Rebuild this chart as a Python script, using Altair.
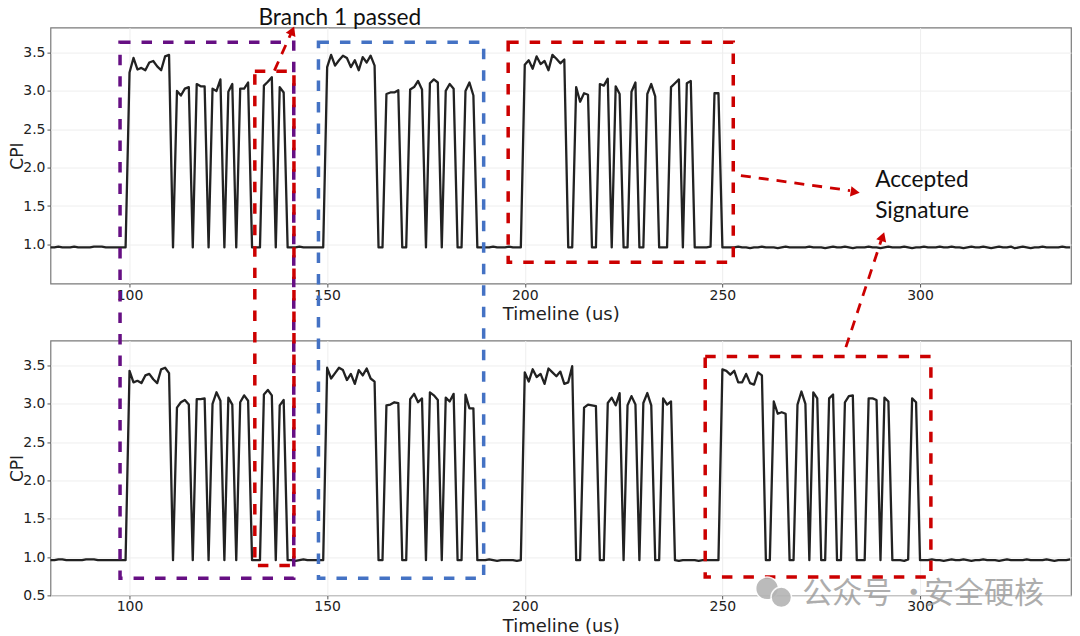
import altair as alt
import pandas as pd

# CPI per microsecond, one row per ten samples, starting at t = 80 us
TOP_CPI = [
    .96,.96,.97,.96,.96,.96,.97,.96,.96,.96,
    .96,.97,.97,.97,.96,.96,.96,.96,.96,.96,
    3.24,3.43,3.28,3.30,3.27,3.37,3.39,3.32,3.27,3.45,
    3.47,.96,3.00,2.94,3.03,3.05,.96,3.09,3.06,3.06,
    .96,3.03,3.00,3.15,.96,2.99,3.09,.96,3.03,3.03,
    3.11,.96,.96,.96,3.07,3.12,3.18,.96,3.05,2.98,
    .96,.96,.96,.97,.96,.96,.96,.96,.96,.96,
    3.31,3.47,3.33,3.40,3.46,3.43,3.31,3.40,3.27,3.44,
    3.37,3.46,3.33,.96,.96,2.96,2.98,2.98,3.01,.96,
    .96,3.02,3.05,3.13,3.02,.96,3.10,3.15,3.11,.96,
    3.00,3.09,3.03,.96,.96,3.00,3.11,2.94,.96,.96,
    .96,.96,.97,.96,.96,.96,.97,.96,.96,.96,
    3.34,3.40,3.29,3.45,3.35,3.39,3.27,3.47,3.42,3.36,
    3.41,.96,.96,3.05,2.86,2.97,2.95,.96,.96,3.09,
    3.07,3.16,.96,3.06,2.96,.96,.96,2.99,3.11,.96,
    .96,2.96,3.09,2.93,.96,.96,.96,3.05,3.10,3.15,
    .96,3.10,3.13,.96,.96,.96,.96,.97,2.97,2.97,
    .96,.96,.96,.96,.97,.96,.96,.95,.96,.96,
    .97,.96,.96,.96,.95,.96,.97,.96,.96,.96,
    .96,.96,.97,.96,.96,.96,.95,.96,.97,.96,
    .96,.97,.96,.95,.96,.96,.96,.97,.96,.96,
    .95,.96,.97,.96,.96,.96,.97,.96,.95,.96,
    .96,.97,.96,.96,.96,.97,.96,.96,.97,.96,
    .96,.95,.96,.97,.96,.96,.97,.96,.95,.96,
    .97,.96,.96,.97,.95,.96,.97,.96,.95,.96,
    .96,.97,.96,.96,.96,.96,.97,.96,.96,
]
BOTTOM_CPI = [
    .96,.96,.97,.97,.96,.96,.96,.96,.96,.97,
    .97,.97,.96,.96,.96,.96,.96,.96,.96,.96,
    3.43,3.28,3.30,3.27,3.37,3.39,3.32,3.27,3.45,3.47,
    3.40,.96,2.95,3.02,3.05,2.99,.96,3.06,3.06,3.07,
    .96,3.00,3.15,3.04,.96,3.08,2.99,.96,3.02,3.11,
    3.04,.96,.96,.96,3.12,3.18,3.11,.96,2.98,3.05,
    .96,.96,.95,.96,.97,.96,.96,.96,.96,.96,
    3.47,3.33,3.40,3.47,3.44,3.31,3.39,3.26,3.44,3.37,
    3.46,3.33,3.29,.96,.96,2.98,2.99,3.02,3.01,.96,
    .96,3.06,3.13,3.02,3.07,.96,3.15,3.11,3.05,.96,
    3.08,3.03,3.13,.96,.96,3.12,2.94,2.94,.96,.96,
    .96,.97,.96,.95,.96,.96,.96,.96,.95,.96,
    3.41,3.29,3.45,3.35,3.39,3.26,3.46,3.41,3.36,3.42,
    3.26,3.28,3.49,.96,.96,2.95,2.99,2.98,2.97,.96,
    .96,3.01,3.08,2.98,3.14,.96,2.98,3.10,2.99,.96,
    3.01,3.14,2.98,.96,.96,3.07,2.99,3.03,.96,.95,
    .96,.96,.96,.96,.95,.96,.96,.96,.96,.96,
    3.45,3.43,3.38,3.43,3.28,3.28,3.39,3.27,3.25,3.41,
    3.37,.96,.96,3.03,2.87,2.89,2.87,.96,.96,2.99,
    3.16,3.00,.96,3.15,3.07,.96,.96,3.07,3.12,.96,
    .96,3.02,3.10,3.11,.96,.96,.96,3.07,3.07,3.05,
    .96,3.08,3.03,.96,.96,.96,.95,.97,3.07,3.02,
    .96,.96,.96,.97,.96,.96,.95,.96,.97,.96,
    .96,.97,.96,.95,.96,.96,.97,.96,.96,.96,
    .95,.96,.97,.96,.96,.96,.96,.97,.96,.96,
    .96,.96,.97,.96,.95,.96,.96,.96,.97,
]
TIME_START = 80

X_TICKS = [100, 150, 200, 250, 300]
TOP_Y_TICKS = [1.0, 1.5, 2.0, 2.5, 3.0, 3.5]
BOTTOM_Y_TICKS = [0.5, 1.0, 1.5, 2.0, 2.5, 3.0, 3.5]

# Annotations, in the bottom panel's data units (they span both panels)
BOX_X = [97.6, 147.8, 131.7, 195.8, 245.65]
BOX_X2 = [141.55, 189.6, 141.6, 252.75, 302.75]
BOX_Y = [7.719, 7.719, 7.338, 7.719, 3.617]
BOX_Y2 = [0.722, 0.722, 0.891, 4.847, 0.739]
BOX_COLOR = ["#660f83", "#4472c4", "#cc0000", "#cc0000", "#cc0000"]

ARROW_X = [136.65, 254.68, 281.24]
ARROW_X2 = [140.83, 282.3, 290.17]
ARROW_Y = [7.348, 5.978, 3.739]
ARROW_Y2 = [7.830, 5.782, 5.130]
HEAD_X = [141.2, 283.6, 290.55]
HEAD_Y = [7.869, 5.763, 5.182]
HEAD_ANGLE = [23, 98, 19]

NOTE_TEXT = ["Branch 1 passed", "Accepted", "Signature"]
NOTE_X = [132.6, 288.65, 288.65]
NOTE_Y = [7.941, 5.835, 5.430]

BUBBLE_X = [261.3, 264.9]
BUBBLE_Y = [0.591, 0.474]
BUBBLE_SIZE = [520, 420]
MARK_TEXT = ["公众号 ·", "安全硬核"]
MARK_X = [270.2, 301.0]
MARK_Y = [0.40, 0.40]

RED = "#cc0000"
X_DOMAIN = [80, 338.2]


def axis_x():
    return alt.Axis(values=X_TICKS, title="Timeline (us)", titlePadding=3.5, labelPadding=1,
                    titleFontSize=18)


def panel_line(cpi, y_domain, ticks):
    df = pd.DataFrame({"t": [TIME_START + i for i in range(len(cpi))], "cpi": cpi})
    return alt.Chart(df).mark_line(
        color="#222222", strokeWidth=2.3, strokeJoin="round", interpolate="linear"
    ).encode(
        x=alt.X("t:Q", scale=alt.Scale(domain=X_DOMAIN, nice=False, zero=False), axis=axis_x()),
        y=alt.Y(
            "cpi:Q",
            scale=alt.Scale(domain=y_domain, nice=False, zero=False),
            axis=alt.Axis(values=ticks, title="CPI", titlePadding=-3.5, format=".1f"),
        ),
    )


boxes = pd.DataFrame({"x": BOX_X, "x2": BOX_X2, "y": BOX_Y, "y2": BOX_Y2, "c": BOX_COLOR})
arrows = pd.DataFrame({"x": ARROW_X, "x2": ARROW_X2, "y": ARROW_Y, "y2": ARROW_Y2})
heads = pd.DataFrame({"x": HEAD_X, "y": HEAD_Y, "a": HEAD_ANGLE})
notes = pd.DataFrame({"x": NOTE_X, "y": NOTE_Y, "t": NOTE_TEXT})
bubbles = pd.DataFrame({"x": BUBBLE_X, "y": BUBBLE_Y, "s": BUBBLE_SIZE})
mark_df = pd.DataFrame({"x": MARK_X, "y": MARK_Y, "t": MARK_TEXT})

box_layer = alt.Chart(boxes).mark_rect(
    filled=False, strokeWidth=3.5, strokeDash=[10.5, 11]
).encode(
    x=alt.X("x:Q"), x2="x2:Q", y=alt.Y("y:Q"), y2="y2:Q",
    stroke=alt.Stroke("c:N", scale=None),
)
arrow_layer = alt.Chart(arrows).mark_rule(
    color=RED, strokeWidth=2.8, strokeDash=[10, 8]
).encode(x=alt.X("x:Q"), x2="x2:Q", y=alt.Y("y:Q"), y2="y2:Q")
head_layer = alt.Chart(heads).mark_point(
    shape="triangle-up", filled=True, color=RED, size=110, opacity=1
).encode(x=alt.X("x:Q"), y=alt.Y("y:Q"), angle=alt.Angle("a:Q", scale=None))
note_layer = alt.Chart(notes).mark_text(
    font="Lato", fontSize=22.7, align="left", baseline="alphabetic", color="#111111"
).encode(x=alt.X("x:Q"), y=alt.Y("y:Q"), text="t:N")
bubble_layer = alt.Chart(bubbles).mark_point(
    shape="circle", filled=True, color="#b4b4b4", stroke="#ffffff", strokeWidth=1.5, opacity=0.9
).encode(x=alt.X("x:Q"), y=alt.Y("y:Q"), size=alt.Size("s:Q", scale=None))
mark_layer = alt.Chart(mark_df).mark_text(
    font="Noto Sans CJK SC", fontSize=30, align="left", baseline="alphabetic",
    color="#999999", opacity=0.8
).encode(x=alt.X("x:Q"), y=alt.Y("y:Q"), text="t:N")

top = panel_line(TOP_CPI, [0.49, 3.825], TOP_Y_TICKS).properties(width=1021, height=256)
bottom = alt.layer(
    panel_line(BOTTOM_CPI, [0.5, 3.826], BOTTOM_Y_TICKS),
    box_layer, arrow_layer, head_layer, note_layer, bubble_layer, mark_layer,
).properties(width=1021, height=255)

chart = alt.vconcat(top, bottom, spacing=57, bounds="flush").properties(
    padding={"left": -0.5, "top": -2.5, "right": 0, "bottom": 0},
    background="white",
).configure_view(
    stroke="#7a7a7a", strokeWidth=1.2
).configure_axis(
    labelFont="DejaVu Sans", titleFont="DejaVu Sans", labelFontSize=14, titleFontSize=17,
    titleFontWeight="normal", labelColor="#222222", titleColor="#222222",
    gridColor="#eeeeee", gridWidth=1, domain=False, tickColor="#555555", tickSize=3.5,
)

chart.save("out.html", embed_options={"renderer": "svg", "actions": False})
